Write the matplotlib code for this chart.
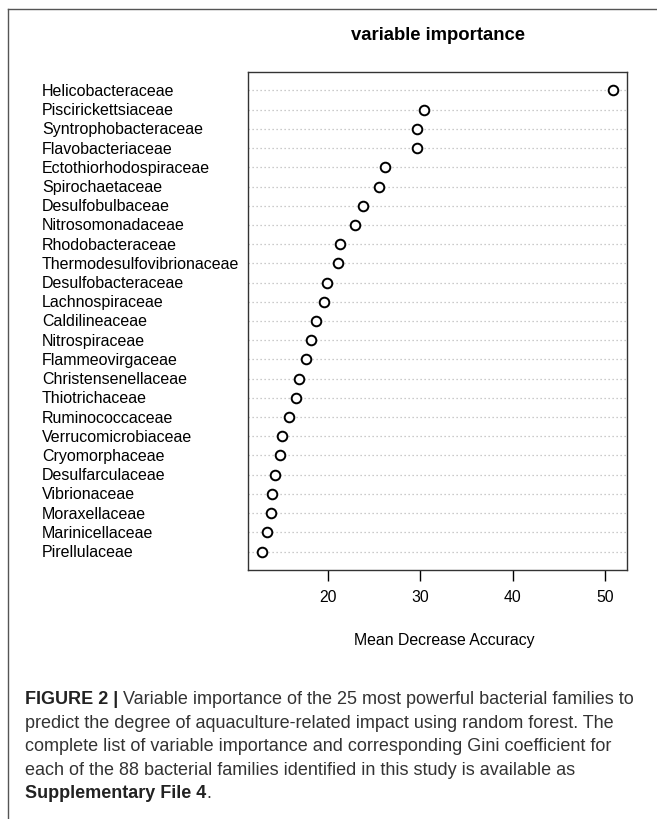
import matplotlib
matplotlib.use("Agg")
import matplotlib.pyplot as plt
from matplotlib.lines import Line2D

plt.rcParams['font.family'] = ['Liberation Sans', 'DejaVu Sans']

# top-down order, as listed on the chart
families = [
    "Helicobacteraceae", "Piscirickettsiaceae", "Syntrophobacteraceae",
    "Flavobacteriaceae", "Ectothiorhodospiraceae", "Spirochaetaceae",
    "Desulfobulbaceae", "Nitrosomonadaceae", "Rhodobacteraceae",
    "Thermodesulfovibrionaceae", "Desulfobacteraceae", "Lachnospiraceae",
    "Caldilineaceae", "Nitrospiraceae", "Flammeovirgaceae",
    "Christensenellaceae", "Thiotrichaceae", "Ruminococcaceae",
    "Verrucomicrobiaceae", "Cryomorphaceae", "Desulfarculaceae",
    "Vibrionaceae", "Moraxellaceae", "Marinicellaceae", "Pirellulaceae",
]
mda = [
    50.9, 30.4, 29.6, 29.6, 26.2, 25.5, 23.8, 22.9, 21.3,
    21.0, 19.9, 19.5, 18.7, 18.1, 17.55, 16.85, 16.5, 15.7,
    14.95, 14.7, 14.2, 13.9, 13.8, 13.3, 12.8,
]
xticks = [20, 30, 40, 50]

W, H = 657, 820
fig = plt.figure(figsize=(W / 100, H / 100), dpi=100)


def fx(px):
    return px / W


def fy(py):
    return 1 - py / H


# page frame around the figure panel
frame_col = "#555555"
fig.add_artist(Line2D([fx(7.5), 1.0], [fy(9.5), fy(9.5)], color=frame_col, lw=1.0))
fig.add_artist(Line2D([fx(7.5), fx(7.5)], [fy(9.5), 0.0], color=frame_col, lw=1.0))

ax = fig.add_axes([fx(248), fy(571), fx(627) - fx(248), (571 - 73) / H])

n = len(families)
ypos = list(range(n, 0, -1))
for y in ypos:
    ax.axhline(y, color="#bbbbbb", lw=0.9, ls=(0, (1, 2.2)), zorder=1)
ax.scatter(mda, ypos, s=48, facecolors="white", edgecolors="black",
           linewidths=1.4, zorder=3)

lo, hi = min(mda), max(mda)
pad = 0.04 * (hi - lo)
ax.set_xlim(lo - pad, hi + pad)
ax.set_ylim(1 - 0.04 * (n - 1), n + 0.04 * (n - 1))
ax.set_yticks([])
ax.set_xticks(xticks)
ax.set_xticklabels([str(t) for t in xticks], fontsize=11.3)
ax.tick_params(axis="x", length=8, width=1.0, pad=6)
for s in ax.spines.values():
    s.set_linewidth(1.0)
    s.set_color("#333333")

# row labels, left aligned
for name, y in zip(families, ypos):
    _, py = ax.transData.transform((0, y))
    fig.text(fx(42), py / H, name, fontsize=11.5, ha="left", va="center")

fig.text(fx(437.5), fy(36), "variable importance", fontsize=13.3,
         fontweight="bold", ha="center", va="center")
fig.text(fx(444), fy(640), "Mean Decrease Accuracy", fontsize=11.4,
         ha="center", va="center")

# caption
cap_col = "#333333"
cap_lines = [
    ("FIGURE 2 |", " Variable importance of the 25 most powerful bacterial families to"),
    ("", "predict the degree of aquaculture-related impact using random forest. The"),
    ("", "complete list of variable importance and corresponding Gini coefficient for"),
    ("", "each of the 88 bacterial families identified in this study is available as"),
    ("Supplementary File 4", "."),
]
cap_y = [700, 723.5, 747, 770.5, 794]
cap_family = ['Liberation Sans Narrow', 'Liberation Sans']

renderer = fig.canvas.get_renderer()


def line_width(size):
    t1 = fig.text(0, 0, cap_lines[0][0], fontsize=size, fontweight="bold",
                  family=cap_family)
    t2 = fig.text(0, 0, cap_lines[0][1], fontsize=size, family=cap_family)
    w = t1.get_window_extent(renderer).width + t2.get_window_extent(renderer).width
    t1.remove()
    t2.remove()
    return w


cap_size = 12.0 * 612 / line_width(12.0)

for (bold, rest), y in zip(cap_lines, cap_y):
    x0 = 25
    if bold:
        tb = fig.text(fx(x0), fy(y), bold, fontsize=cap_size, fontweight="bold",
                      color="#222222", ha="left", va="center", family=cap_family)
        x0 += tb.get_window_extent(renderer).width
    fig.text(fx(x0), fy(y), rest, fontsize=cap_size, color=cap_col,
             ha="left", va="center", family=cap_family)

fig.savefig("out.png", dpi=100)
